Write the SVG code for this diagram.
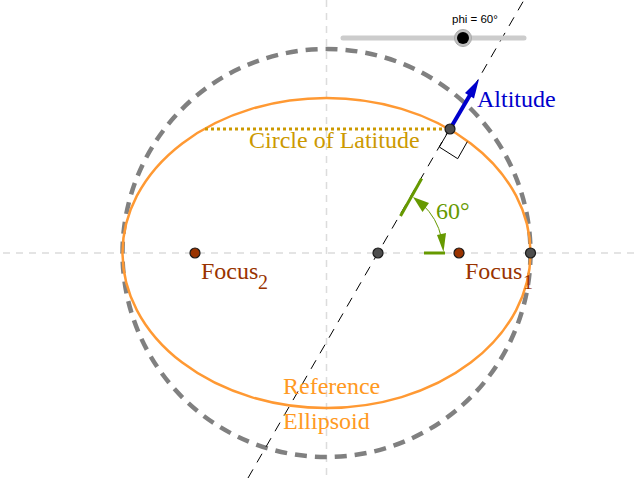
<svg xmlns="http://www.w3.org/2000/svg" width="640" height="480" viewBox="0 0 640 480">
<defs>
<style>
text{font-family:"Liberation Serif","Times New Roman",serif;font-size:24px}
.axis{fill:none;stroke:#dcdcdc;stroke-width:1.5;stroke-dasharray:7 6}
.pt{fill:#4d4d4d;stroke:#1a1a1a;stroke-width:1.2}
.focus{fill:#993300;stroke:#1a1a1a;stroke-width:1.2}
.focustxt{fill:#993300}
.sub{fill:#993300;font-size:20px}
.green{fill:#669900;stroke:none}
.gline{stroke:#669900;stroke-width:3;fill:none}
</style>
</defs>
<rect width="640" height="480" fill="#fff"/>
<g id="axes">
<line class="axis" x1="3" y1="253" x2="640" y2="253"/>
<line class="axis" x1="326.500" y1="0" x2="326.500" y2="480"/>
</g>
<g id="connectors">
<ellipse id="sphere" cx="326.500" cy="253" rx="204" ry="204" fill="none" stroke="#808080" stroke-width="4.500" stroke-dasharray="12 8"/>
<ellipse id="ellipse" cx="326.500" cy="253" rx="204" ry="155" fill="none" stroke="#ff9933" stroke-width="2.500"/>
<line id="latitude" x1="205" y1="129" x2="450" y2="129" stroke="#cc9900" stroke-width="3" stroke-dasharray="3 3"/>
<line id="normal" x1="248" y1="478" x2="524" y2="0" stroke="#000" stroke-width="1" stroke-dasharray="10 8"/>
<path id="right-angle" d="M449.500 129.500L439.300 147L457.700 158.700L467.300 141.700" fill="none" stroke="#000" stroke-width="1"/>
<g id="altitude-arrow">
<line x1="450" y1="129" x2="470" y2="95" stroke="#0000cc" stroke-width="4"/>
<polygon points="479,79 474,98.500 465,93" fill="#0000cc"/>
</g>
<g id="angle-marker">
<line class="gline" x1="400.500" y1="216" x2="421.700" y2="178.500"/>
<line class="gline" x1="424" y1="253" x2="445" y2="253"/>
<path d="M422 204A65 65 0 0 1 441.500 238" fill="none" stroke="#669900" stroke-width="1"/>
<polygon class="green" points="413,197 429,203 422.500,212"/>
<polygon class="green" points="443.500,252 437,235 446,233"/>
</g>
</g>
<g id="node-center"><circle class="pt" cx="378" cy="253" r="5"/></g>
<g id="node-equator"><circle class="pt" cx="530.500" cy="253" r="5"/></g>
<g id="node-surface"><circle class="pt" cx="450" cy="129" r="5"/></g>
<g id="node-focus1"><circle class="focus" cx="459" cy="253" r="5"/><text class="focustxt" x="465" y="279">Focus</text><text class="sub" x="523" y="289">1</text></g>
<g id="node-focus2"><circle class="focus" cx="195" cy="253" r="5"/><text class="focustxt" x="201" y="279">Focus</text><text class="sub" x="258" y="289">2</text></g>
<g id="slider">
<line x1="343" y1="38" x2="524" y2="38" stroke="#cccccc" stroke-width="5" stroke-linecap="round"/>
<circle cx="463" cy="38" r="8.500" fill="#c0c0c0" stroke="#aaa" stroke-width="1"/>
<circle cx="463" cy="38" r="6" fill="#000"/>
<text x="452" y="23" style="font-family:'Liberation Sans',Arial,sans-serif;font-size:11.500px" fill="#000">phi = 60°</text>
</g>
<g id="labels">
<text x="477" y="107" fill="#0000cc">Altitude</text>
<text x="249" y="148" fill="#cc9900">Circle of Latitude</text>
<text x="436" y="219" fill="#669900">60°</text>
<text x="283" y="394" fill="#ff9922">Reference</text>
<text x="283" y="429" fill="#ff9922">Ellipsoid</text>
</g>
</svg>
